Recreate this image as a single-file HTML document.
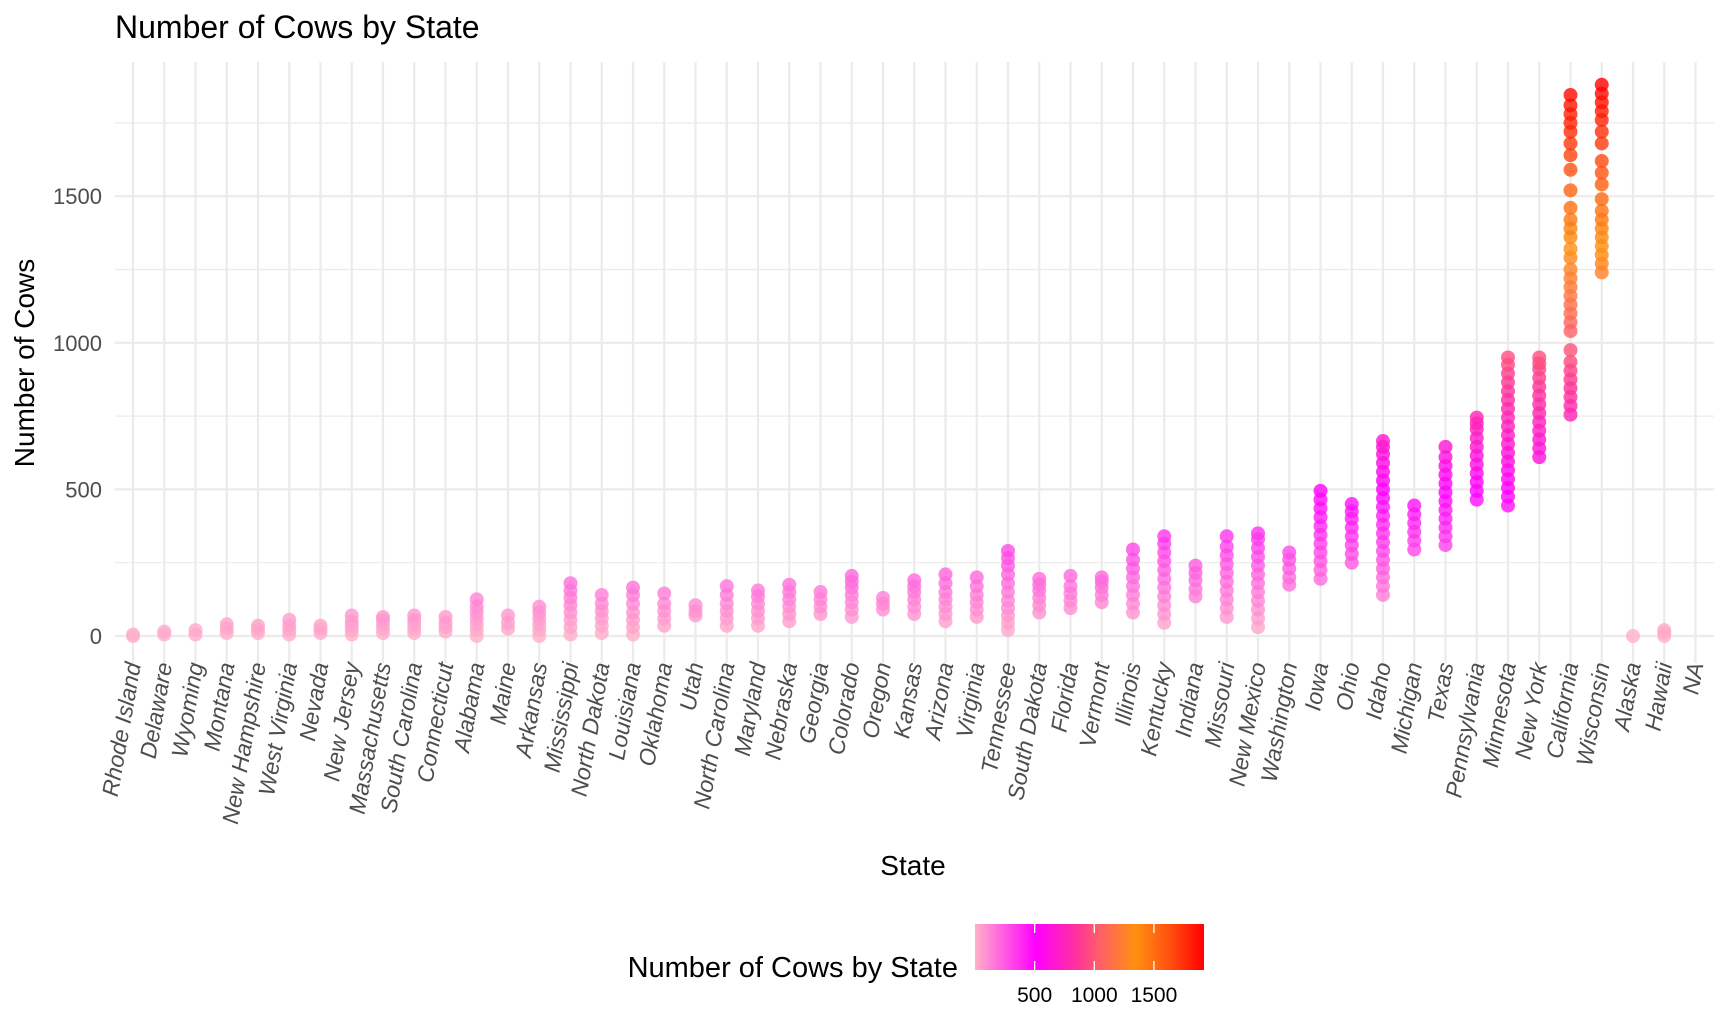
<!DOCTYPE html>
<html><head><meta charset="utf-8"><style>
html,body{margin:0;padding:0;background:#fff;}
svg{display:block;font-family:"Liberation Sans",sans-serif;}
</style></head><body>
<svg id="chart" width="1728" height="1036">
<defs>
<linearGradient id="lg" x1="0" x2="1" y1="0" y2="0">
<stop offset="0" stop-color="#ffb0c8"/>
<stop offset="0.265" stop-color="#ff00ff"/>
<stop offset="0.45" stop-color="#ff3399"/>
<stop offset="0.53" stop-color="#ff5a70"/>
<stop offset="0.70" stop-color="#ff9010"/>
<stop offset="0.85" stop-color="#ff5010"/>
<stop offset="1" stop-color="#ff0000"/>
</linearGradient>
</defs>
<g id="grid"></g>
<g id="pts"></g>
<g id="axes"></g>
<text x="115" y="38" font-size="32" fill="#000">Number of Cows by State</text>
<text transform="translate(34,363) rotate(-90)" text-anchor="middle" font-size="28" fill="#000">Number of Cows</text>
<text x="913" y="875" text-anchor="middle" font-size="28" fill="#000">State</text>
<g>
<text x="958" y="977" text-anchor="end" font-size="29" fill="#000">Number of Cows by State</text>
<rect x="975" y="924" width="229" height="46" fill="url(#lg)"/>
<g id="legticks"></g>
</g>
</svg>
<script>
const states=["Rhode Island","Delaware","Wyoming","Montana","New Hampshire","West Virginia","Nevada","New Jersey","Massachusetts","South Carolina","Connecticut","Alabama","Maine","Arkansas","Mississippi","North Dakota","Louisiana","Oklahoma","Utah","North Carolina","Maryland","Nebraska","Georgia","Colorado","Oregon","Kansas","Arizona","Virginia","Tennessee","South Dakota","Florida","Vermont","Illinois","Kentucky","Indiana","Missouri","New Mexico","Washington","Iowa","Ohio","Idaho","Michigan","Texas","Pennsylvania","Minnesota","New York","California","Wisconsin","Alaska","Hawaii","NA"];
const cowValues=[
[0,5],[5,15],[5,20],[10,25,40],[10,22,35],[5,20,35,55],[10,22,35],[5,20,35,50,70],[10,25,40,55,65],[10,25,40,55,70],[15,30,45,65],
[0,20,40,60,80,100,125],[25,45,70],[0,20,40,60,80,100],[5,30,55,80,105,130,155,180],[10,35,60,85,110,140],[5,30,55,80,110,140,165],
[35,60,85,110,145],[70,85,105],[35,60,85,110,140,170],[35,60,85,110,135,155],[50,75,100,125,150,175],[75,100,125,150],
[65,90,115,140,165,185,205],[90,110,130],[75,100,125,150,170,190],[50,75,100,125,150,180,210],[65,90,115,140,170,200],
[20,45,70,95,120,150,180,210,240,265,290],[80,105,130,155,175,195],[95,120,145,170,205],[115,140,165,185,200],
[80,110,140,170,200,230,260,295],[45,75,105,135,165,195,225,255,285,315,340],[135,160,190,215,240],
[65,95,125,155,185,215,245,275,305,340],[30,60,90,120,150,180,210,240,270,300,330,350],[175,200,230,260,285],
[195,225,255,285,315,345,375,405,435,465,495],[250,280,310,340,370,400,425,450],
[140,170,200,230,260,290,320,350,380,410,440,470,500,530,560,590,620,645,665],[295,325,355,385,415,445],
[310,340,370,400,430,460,490,520,550,580,610,645],[465,495,525,555,585,615,645,675,705,725,745],
[445,475,505,535,565,595,625,655,685,715,745,775,805,835,865,895,925,950],
[610,640,670,700,730,760,790,820,850,880,910,930,950],
[755,785,815,845,875,905,935,975,1040,1070,1100,1130,1160,1190,1220,1250,1290,1320,1360,1390,1420,1460,1520,1590,1640,1680,1720,1750,1780,1810,1845],
[1240,1270,1300,1330,1360,1390,1420,1450,1490,1540,1580,1620,1680,1720,1760,1790,1820,1850,1880],
[0],[0,10,20],[]];
const yTicks=[0,500,1000,1500];
const yMinor=[250,750,1250,1750];
const legendTicks=[500,1000,1500];

const NS="http://www.w3.org/2000/svg";
function xPos(i){return 133+i*31.25;}
function yPos(v){return 636-v*0.2932;}
function lPos(v){return 975+v*0.1193;}
const cstops=[[0,[255,176,200]],[500,[255,0,255]],[850,[255,51,153]],[1000,[255,90,112]],[1330,[255,144,16]],[1600,[255,80,16]],[1890,[255,0,0]]];
function colorOf(v){
  for(let i=0;i<cstops.length-1;i++){
    const a=cstops[i],b=cstops[i+1];
    if(v<=b[0]){const t=Math.max(0,(v-a[0])/(b[0]-a[0]));
      const c=a[1].map((x,k)=>Math.round(x+(b[1][k]-x)*t));return `rgb(${c})`;}
  }
  return "rgb(255,0,0)";
}
function mk(tag,attrs,parent){const e=document.createElementNS(NS,tag);for(const k in attrs)e.setAttribute(k,attrs[k]);parent.appendChild(e);return e;}
const grid=document.getElementById('grid'),pts=document.getElementById('pts'),axes=document.getElementById('axes'),lt=document.getElementById('legticks');
const L=115,R=1714,T=62,B=663;
yMinor.forEach(v=>{const l=mk('line',{x1:L,x2:R,y1:yPos(v),y2:yPos(v),stroke:'#ebebeb','stroke-width':1.2},grid);

});
yTicks.forEach(v=>{const l=mk('line',{x1:L,x2:R,y1:yPos(v),y2:yPos(v),stroke:'#ebebeb','stroke-width':2.2},grid);


const t=mk('text',{x:102,y:yPos(v)+8,'text-anchor':'end','font-size':22,fill:'#4d4d4d'},axes);t.textContent=v;

});
states.forEach((s,i)=>{const x=xPos(i);
const l=mk('line',{x1:x,x2:x,y1:T,y2:B,stroke:'#ebebeb','stroke-width':2.2},grid);


const ax=x+8,ay=664;
const t=mk('text',{x:ax,y:ay,'text-anchor':'end','font-size':23,'font-style':'italic',fill:'#4d4d4d',transform:`rotate(-80 ${ax} ${ay})`},axes);t.textContent=s;


cowValues[i].forEach(v=>{const c=mk('circle',{cx:x,cy:yPos(v),r:7,fill:colorOf(v),'fill-opacity':0.8},pts);

});});
legendTicks.forEach(v=>{const x=lPos(v);
mk('line',{x1:x,x2:x,y1:924,y2:933,stroke:'#fff','stroke-width':1.3},lt);
mk('line',{x1:x,x2:x,y1:961,y2:970,stroke:'#fff','stroke-width':1.3},lt);
const t=mk('text',{x:x,y:1002,'text-anchor':'middle','font-size':21,fill:'#000'},lt);t.textContent=v;

});
</script>
</body></html>
